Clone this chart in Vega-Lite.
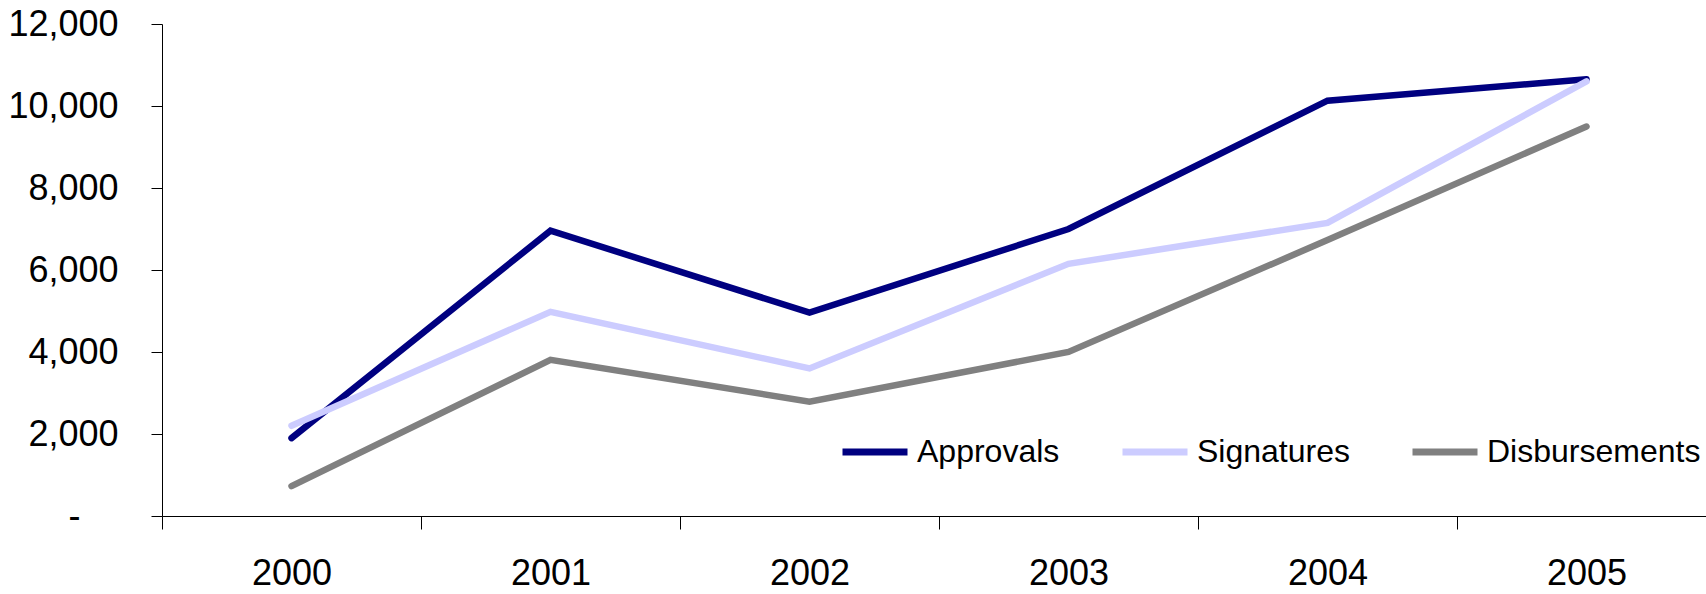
{
  "$schema": "https://vega.github.io/schema/vega-lite/v6.json",
  "width": 1544,
  "height": 492,
  "autosize": {"type": "none"},
  "padding": {"left": 162, "top": 24, "right": 0, "bottom": 78},
  "background": "white",
  "config": {"view": {"stroke": null}, "font": "Liberation Sans"},
  "data": {
    "values": [
      {"year": "2000", "series": "Approvals", "value": 1900},
      {"year": "2001", "series": "Approvals", "value": 6960},
      {"year": "2002", "series": "Approvals", "value": 4960},
      {"year": "2003", "series": "Approvals", "value": 7000},
      {"year": "2004", "series": "Approvals", "value": 10130},
      {"year": "2005", "series": "Approvals", "value": 10650},
      {"year": "2000", "series": "Signatures", "value": 2200},
      {"year": "2001", "series": "Signatures", "value": 4980},
      {"year": "2002", "series": "Signatures", "value": 3600},
      {"year": "2003", "series": "Signatures", "value": 6150},
      {"year": "2004", "series": "Signatures", "value": 7150},
      {"year": "2005", "series": "Signatures", "value": 10600},
      {"year": "2000", "series": "Disbursements", "value": 730},
      {"year": "2001", "series": "Disbursements", "value": 3810},
      {"year": "2002", "series": "Disbursements", "value": 2790},
      {"year": "2003", "series": "Disbursements", "value": 4000},
      {"year": "2004", "series": "Disbursements", "value": 6730},
      {"year": "2005", "series": "Disbursements", "value": 9500}
    ]
  },
  "mark": {"type": "line", "strokeWidth": 6.5, "strokeCap": "round"},
  "encoding": {
    "x": {
      "field": "year",
      "type": "ordinal",
      "bandPosition": 0.5,
      "scale": {"type": "band", "range": [0, 1554], "paddingInner": 0, "paddingOuter": 0},
      "axis": {
        "title": null,
        "labelAngle": 0,
        "tickBand": "extent",
        "tickSize": 13,
        "labelFontSize": 36,
        "labelPadding": 27,
        "labelColor": "black",
        "domainColor": "black",
        "tickColor": "black",
        "grid": false
      }
    },
    "y": {
      "field": "value",
      "type": "quantitative",
      "scale": {"domain": [0, 12000], "nice": false},
      "axis": {
        "title": null,
        "values": [0, 2000, 4000, 6000, 8000, 10000, 12000],
        "labelExpr": "datum.value == 0 ? '-' : format(datum.value, ',')",
        "tickSize": 11,
        "labelPadding": {"condition": {"test": "datum.value == 0", "value": 71}, "value": 33},
        "labelFontSize": 36,
        "labelColor": "black",
        "domainColor": "black",
        "tickColor": "black",
        "grid": false
      }
    },
    "color": {
      "field": "series",
      "type": "nominal",
      "scale": {"domain": ["Approvals", "Signatures", "Disbursements"], "range": ["#000080", "#CCCCFF", "#808080"]},
      "legend": {
        "orient": "none",
        "legendX": 677,
        "legendY": 392,
        "direction": "horizontal",
        "title": null,
        "symbolType": "stroke",
        "symbolSize": 4225,
        "symbolStrokeWidth": 7,
        "labelFontSize": 32,
        "labelOffset": 6,
        "labelLimit": 400,
        "labelColor": "black",
        "columnPadding": 48,
        "padding": 0
      }
    }
  }
}
